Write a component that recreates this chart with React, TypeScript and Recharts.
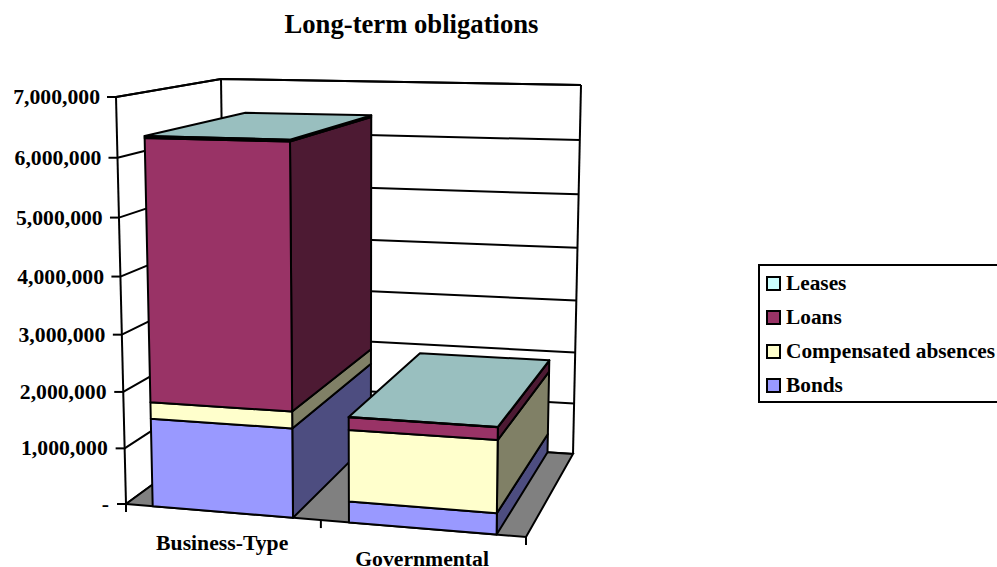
import React from "react";
import { BarChart, Bar, XAxis, YAxis, CartesianGrid, Legend, Customized } from "recharts";

const categories = ["Business-Type", "Governmental"];
const bonds = [1560000, 365000];
const compensatedAbsences = [290000, 1235000];
const loans = [4490000, 215000];
const leases = [30000, 5000];
const valueTicks = [0, 1000000, 2000000, 3000000, 4000000, 5000000, 6000000, 7000000];
const tickLabels = ["-", "1,000,000", "2,000,000", "3,000,000", "4,000,000", "5,000,000", "6,000,000", "7,000,000"];
const legendOrder = ["Leases", "Loans", "Compensated absences", "Bonds"];

const data = categories.map((name, i) => ({
  name,
  Bonds: bonds[i],
  "Compensated absences": compensatedAbsences[i],
  Loans: loans[i],
  Leases: leases[i],
}));

const W = 997, H = 567;
const plot = { left: 127, right: 470, top: 98, bottom: 62 };
const margin = { left: plot.left - 1, right: plot.right, top: plot.top, bottom: plot.bottom - 1 };
const plotW = W - plot.left - plot.right;
const plotH = H - plot.top - plot.bottom;
const FONT = "'Liberation Serif', serif";
const FS = 21.33;
const AXIS_FS = 21.7;

// Corners of the 3D box on the picture: [u][t][w]
const C: number[][][][] = [
  [[[126, 504], [226, 431]], [[116, 97], [221, 79]]],
  [[[526, 537], [573, 454]], [[532, 105], [581, 85]]],
];
const persp = (a: number) => (a * 0.95) / (1 + a * -0.05);

const project = (uu: number, tt: number, w: number): [number, number] => {
  const u = persp(uu), t = persp(tt);
  const at = (k: number) => {
    const a = C[0][0][0][k] * (1 - w) + C[0][0][1][k] * w;
    const b = C[0][1][0][k] * (1 - w) + C[0][1][1][k] * w;
    const c = C[1][0][0][k] * (1 - w) + C[1][0][1][k] * w;
    const d = C[1][1][0][k] * (1 - w) + C[1][1][1][k] * w;
    const l = a * (1 - t) + b * t;
    const r = c * (1 - t) + d * t;
    return l * (1 - u) + r * u;
  };
  return [at(0), at(1)];
};
const toU = (x: number) => (x - plot.left) / plotW;
const toT = (y: number) => (plot.top + plotH - y) / plotH;
const pts = (list: [number, number, number][]) =>
  list.map(([u, t, w]) => project(u, t, w).join(",")).join(" ");

const FLOOR = "#808080";
const INK = "#000";
const SW = 2;

const makeShape = (sideFill: string, topFill?: string) => (props: any) => {
  const { x, y, width, height, fill } = props;
  const u0 = toU(x), u1 = toU(x + width);
  const t1 = toT(Math.min(y, y + height)), t0 = toT(Math.max(y, y + height));
  const common = { stroke: INK, strokeWidth: SW, strokeLinejoin: "round" as const };
  return (
    <g>
      <polygon points={pts([[u1, t0, 0], [u1, t0, 1], [u1, t1, 1], [u1, t1, 0]])} fill={sideFill} {...common} />
      {topFill && (
        <polygon points={pts([[u0, t1, 0], [u0, t1, 1], [u1, t1, 1], [u1, t1, 0]])} fill={topFill} {...common} />
      )}
      <polygon points={pts([[u0, t0, 0], [u1, t0, 0], [u1, t1, 0], [u0, t1, 0]])} fill={fill} {...common} />
    </g>
  );
};

const Frame = () => {
  const line = (a: [number, number, number], b: [number, number, number], key: string) => {
    const p = project(...a), q = project(...b);
    return <line key={key} x1={p[0]} y1={p[1]} x2={q[0]} y2={q[1]} stroke={INK} strokeWidth={SW} />;
  };
  return (
    <g>
      <polygon points={pts([[0, 0, 0], [1, 0, 0], [1, 0, 1], [0, 0, 1]])} fill={FLOOR} stroke={INK} strokeWidth={SW} />
      {line([0, 0, 0], [0, 1, 0], "a")}
      {line([0, 1, 0], [0, 1, 1], "b")}
      {line([0, 1, 1], [1, 1, 1], "c")}
      {line([0, 0, 1], [0, 1, 1], "d")}
      {line([1, 0, 1], [1, 1, 1], "e")}
      {[0, 0.5, 1].map((u) => {
        const p = project(u, 0, 0);
        return <line key={u} x1={p[0]} y1={p[1]} x2={p[0]} y2={p[1] + 8} stroke={INK} strokeWidth={SW} />;
      })}
    </g>
  );
};

const gridLine = (props: any) => {
  const t = toT(props.y1);
  return (
    <polyline
      key={props.y1}
      points={pts([[0, t, 0], [0, t, 1], [1, t, 1]])}
      fill="none"
      stroke={INK}
      strokeWidth={SW}
    />
  );
};

const YTick = (props: any) => {
  const t = toT(props.y);
  const [px, py] = project(0, t, 0);
  const idx = valueTicks.indexOf(props.payload.value);
  return (
    <g>
      <line x1={px - 9} y1={py} x2={px} y2={py} stroke={INK} strokeWidth={SW} />
      <text x={px - 16 - (1 - t)} y={py + 7} textAnchor="end" fontFamily={FONT} fontWeight="bold" fontSize={AXIS_FS} fill={INK}>
        {tickLabels[idx]}
      </text>
    </g>
  );
};

const XTick = (props: any) => {
  const [px, py] = project(toU(props.x), 0, 0);
  return (
    <text x={px} y={py + 38} textAnchor="middle" fontFamily={FONT} fontWeight="bold" fontSize={AXIS_FS} fill={INK}>
      {props.payload.value}
    </text>
  );
};

const LegendBox = (props: any) => {
  const payload = props.payload ?? [];
  const items = legendOrder.map((n) => payload.find((p: any) => p.value === n)).filter(Boolean);
  return (
    <div
      style={{
        boxSizing: "border-box",
        width: 260,
        height: 139,
        border: "2px solid #000",
        background: "#fff",
        paddingTop: 0,
      }}
    >
      {items.map((it: any) => (
        <div
          key={it.value}
          style={{
            display: "flex",
            alignItems: "center",
            height: 34,
            paddingLeft: 6,
            fontFamily: FONT,
            fontWeight: "bold",
            fontSize: FS,
            color: "#000",
            whiteSpace: "nowrap",
          }}
        >
          <span
            style={{
              boxSizing: "border-box",
              display: "inline-block",
              width: 15,
              height: 15,
              border: "2px solid #000",
              background: it.color,
              marginRight: 5,
            }}
          />
          {it.value}
        </div>
      ))}
    </div>
  );
};

export default function App() {
  return (
    <div style={{ position: "absolute", left: 0, top: 0, width: W, height: H, overflow: "hidden" }}>
      <BarChart width={W} height={H} data={data} margin={margin} barCategoryGap="14%">
        <text x={411.5} y={33} textAnchor="middle" fontFamily={FONT} fontWeight="bold" fontSize={26.67} fill={INK}>
          Long-term obligations
        </text>
        <Customized component={Frame} />
        <CartesianGrid horizontal={gridLine} vertical={false} horizontalValues={valueTicks} />
        <XAxis dataKey="name" height={1} axisLine={false} tickLine={false} tick={<XTick />} interval={0} />
        <YAxis
          width={1}
          domain={[0, 7000000]}
          ticks={valueTicks}
          interval={0}
          axisLine={false}
          tickLine={false}
          tick={<YTick />}
        />
        <Legend
          layout="vertical"
          align="center"
          verticalAlign="middle"
          content={<LegendBox />}
          wrapperStyle={{ position: "absolute", left: 758, top: 264, width: 260, height: 139, margin: 0 }}
        />
        <Bar dataKey="Bonds" stackId="s" fill="#9999FF" isAnimationActive={false} shape={makeShape("#4D4D80")} />
        <Bar dataKey="Compensated absences" stackId="s" fill="#FFFFCC" isAnimationActive={false} shape={makeShape("#808066")} />
        <Bar dataKey="Loans" stackId="s" fill="#993366" isAnimationActive={false} shape={makeShape("#4D1A33")} />
        <Bar dataKey="Leases" stackId="s" fill="#CCFFFF" isAnimationActive={false} shape={makeShape("#668080", "#99BFBF")} />
      </BarChart>
    </div>
  );
}
